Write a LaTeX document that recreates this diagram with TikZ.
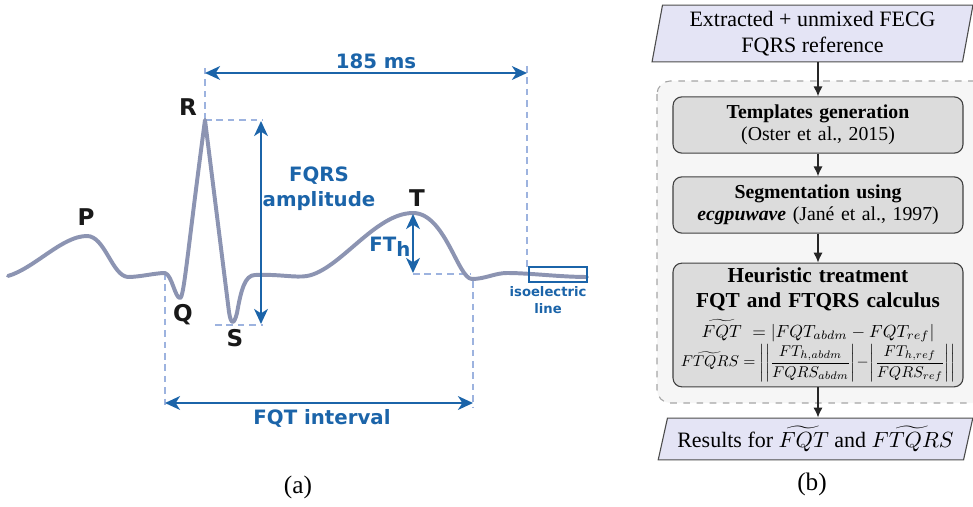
\documentclass[tikz,border=0pt]{standalone}
\usepackage{amsmath}
\usepackage{graphicx}
\usepackage{fontspec}
\setmainfont{Liberation Serif}
\newfontfamily\ecgfont{DejaVu Sans}
\usetikzlibrary{arrows.meta,shapes.geometric}
\definecolor{wave}{HTML}{8C94B2}
\definecolor{dimblue}{HTML}{1B64A9}
\definecolor{guideblue}{HTML}{9DB3DF}
\definecolor{iofill}{HTML}{E4E4F5}
\definecolor{procfill}{HTML}{DCDCDC}
\definecolor{panelfill}{HTML}{F6F6F6}

\begin{document}
\begin{tikzpicture}[x=0.016cm,y=-0.016cm,
  wavelbl/.style={font=\ecgfont\bfseries\fontsize{10.5}{12}\selectfont,text=black!90},
  bluelbl/.style={font=\ecgfont\bfseries\fontsize{9}{11.5}\selectfont,text=dimblue,align=center},
  guide/.style={guideblue,line width=0.7pt,dash pattern=on 3pt off 2.2pt},
  dim/.style={dimblue,line width=1.1pt,{Stealth[length=2.4mm,width=2.2mm,inset=0.7mm]}-{Stealth[length=2.4mm,width=2.2mm,inset=0.7mm]}},
  io/.style={trapezium,trapezium stretches=true,draw=black!70,fill=iofill,line width=0.5pt,inner sep=1pt,align=center},
  proc/.style={rectangle,rounded corners=4pt,draw=black!75,fill=procfill,line width=0.5pt,minimum width=4.64cm,text width=4.5cm,align=center,inner sep=2pt},
  flow/.style={-{Latex[length=1.6mm,width=1.5mm]},line width=0.7pt,black!85},
  panel/.style={draw=black!35,fill=panelfill,dashed,rounded corners=6pt,line width=0.5pt}]
\useasboundingbox (0,0) rectangle (973,507);
% (a) fetal ECG beat
\coordinate (P) at (87,236);
\coordinate (Q) at (180,298);
\coordinate (R) at (205,120);
\coordinate (S) at (233,323);
\coordinate (T) at (413,213);
\draw[guide] (R) -- (205,66);
\draw[guide] (R) -- (263,120);
\draw[guide] (215,325) -- (263,325);
\draw[guide] (165,273) -- (165,408);
\draw[guide] (527,66) -- (527,267);
\draw[guide] (413,274) -- (471,274);
\draw[guide] (473,281) -- (473,408);
\draw[wave,line width=1.8pt,line join=round,line cap=round]
  (8,276) .. controls (35,268) and (62,236) .. (P)
  .. controls (105,236) and (112,276) .. (128,277)
  .. controls (140,277) and (155,273) .. (165,273)
  .. controls (172,275) and (175,298) .. (Q)
  .. controls (184,298) and (187,255) .. (R)
  -- (229,312) .. controls (231,325) and (234,325) .. (237,313)
  .. controls (241,290) and (245,275) .. (255,275)
  .. controls (280,274) and (295,278) .. (307,276)
  .. controls (340,270) and (375,213) .. (T)
  .. controls (445,213) and (458,279) .. (472,279)
  .. controls (485,279) and (495,273) .. (507,273)
  .. controls (530,273) and (560,277) .. (587,277);
\draw[dimblue,line width=0.8pt] (529,267) rectangle (587,282);
\node[wavelbl] (Plbl) at (86,217) {P};
\node[wavelbl] (Qlbl) at (183,315) {Q};
\node[wavelbl] (Rlbl) at (188,107) {R};
\node[wavelbl] (Slbl) at (235,338) {S};
\node[wavelbl] (Tlbl) at (417,198) {T};
\coordinate (msL) at (205,73);
\coordinate (msR) at (527,73);
\coordinate (ampT) at (261,121);
\coordinate (ampB) at (261,324);
\coordinate (fthT) at (413,214);
\coordinate (fthB) at (413,273);
\coordinate (fqtL) at (165,403);
\coordinate (fqtR) at (473,403);
\draw[dim] (msL) -- (msR);
\draw[dim] (ampT) -- (ampB);
\draw[dim] (fthT) -- (fthB);
\draw[dim] (fqtL) -- (fqtR);
\node[bluelbl] (msLbl) at (376,61) {185 ms};
\node[bluelbl] (ampLbl) at (319,189) {FQRS\\amplitude};
\node[bluelbl,anchor=east,inner sep=1pt] (fthLbl) at (413,247) {FT\raisebox{-0.45ex}{h}};
\node[bluelbl] (fqtLbl) at (322,418) {FQT interval};
\node[bluelbl,font=\ecgfont\bfseries\fontsize{6}{7.5}\selectfont] (isoLbl) at (548,300) {isoelectric\\line};
\node[font=\fontsize{11.5}{13}\selectfont] (capA) at (298,487) {(a)};
% (b) processing chain
\draw[panel] (657,81) rectangle (990,403);
\node[io,trapezium left angle=80,trapezium right angle=100,minimum width=5.14cm,minimum height=0.91cm,font=\fontsize{10}{12}\selectfont] (src) at (812.5,33.5) {Extracted + unmixed FECG\\FQRS reference};
\node[proc,minimum height=0.9cm,font=\fontsize{9}{10}\selectfont] (tmpl) at (818,125) {\textbf{Templates generation}\\(Oster et al., 2015)};
\node[proc,minimum height=0.9cm,font=\fontsize{9}{10}\selectfont] (seg) at (818,205) {\textbf{Segmentation using}\\\textbf{\textit{ecgpuwave}} (Jané et al., 1997)};
\node[proc,minimum height=1.98cm,font=\fontsize{9.7}{11.4}\selectfont] (heur) at (818,325) {\textbf{Heuristic treatment}\\\textbf{FQT and FTQRS calculus}\\[2pt]
  \resizebox{106pt}{!}{$\widetilde{FQT}\ = |FQT_{abdm}-FQT_{ref}|$}\\[0pt]
  \resizebox{125pt}{!}{$\widetilde{FTQRS} = \left|\left|\dfrac{FT_{h,abdm}}{FQRS_{abdm}}\right|\!-\!\left|\dfrac{FT_{h,ref}}{FQRS_{ref}}\right|\right|$}};
\node[io,trapezium left angle=74,trapezium right angle=106,minimum width=5.04cm,minimum height=0.67cm,font=\fontsize{10}{12}\selectfont] (res) at (815.5,439) {Results for $\widetilde{FQT}$ and $\widetilde{FTQRS}$};
\draw[flow] (tmpl.north |- src.south) -- (tmpl.north);
\draw[flow] (tmpl) -- (seg);
\draw[flow] (seg) -- (heur);
\draw[flow] (heur.south) -- (heur.south |- res.north);
\node[font=\fontsize{11.5}{13}\selectfont] (capB) at (812,484) {(b)};
\end{tikzpicture}
\end{document}
